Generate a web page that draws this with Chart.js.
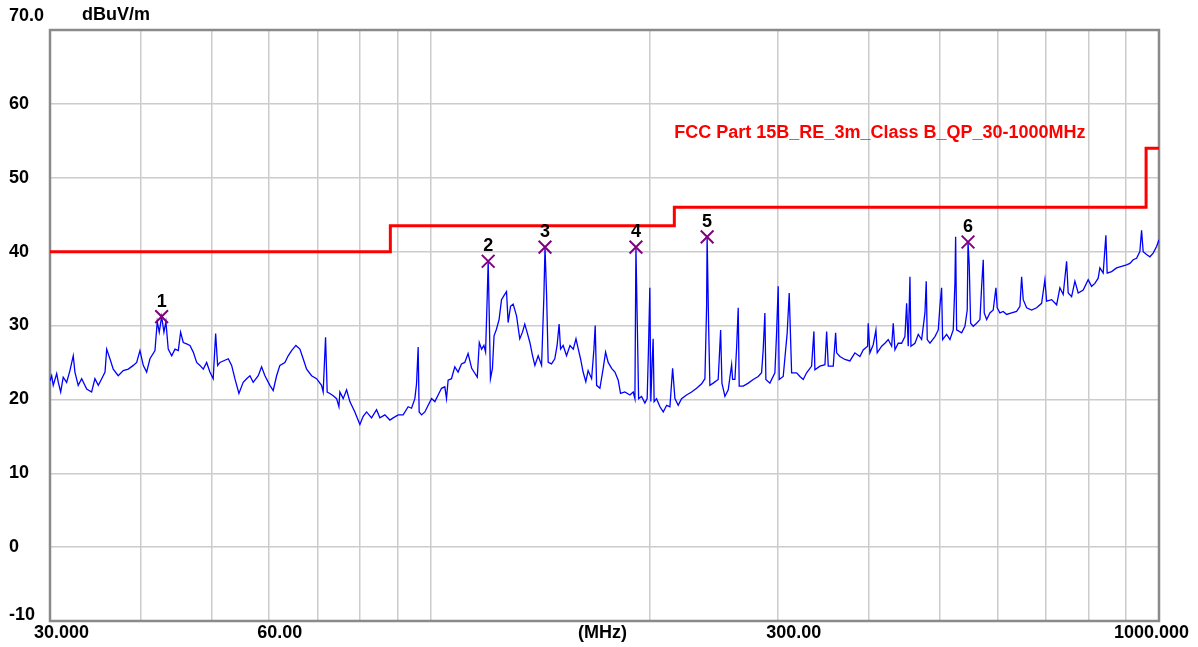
<!DOCTYPE html>
<html>
<head>
<meta charset="utf-8">
<title>Radiated emission scan</title>
<script src="https://cdn.jsdelivr.net/npm/chart.js@4.4.1/dist/chart.umd.min.js"></script>
<style>
    html, body { margin: 0; padding: 0; background: #ffffff; }
    canvas { display: block; }
</style>
</head>
<body>
<canvas id="scanChart" width="1198" height="647"></canvas>
<script>
const traceFreq = [
    30.0, 30.16, 30.31, 30.64, 30.80, 31.03, 31.28, 31.62, 31.95, 32.29, 32.46, 32.80, 33.16, 33.69, 34.22, 34.58, 34.95, 35.33, 35.70, 35.89,
    36.26, 36.64, 37.22, 37.82, 38.43, 39.04, 39.46, 39.87, 40.29, 40.72, 41.15, 41.81, 42.11, 42.38, 42.70, 43.01, 43.28, 43.60, 44.08, 44.54,
    45.01, 45.34, 45.72, 46.21, 46.70, 47.19, 47.70, 48.20, 48.71, 49.23, 49.74, 50.26, 50.65, 50.97, 51.34, 52.16, 52.71, 53.28, 53.83, 54.52,
    55.26, 55.86, 56.45, 57.04, 57.95, 58.57, 59.19, 60.13, 60.76, 61.42, 62.06, 63.05, 63.71, 64.40, 65.28, 66.11, 66.80, 67.53, 68.60, 69.69,
    70.80, 71.16, 71.70, 72.07, 72.69, 73.45, 74.25, 74.79,
    75.02, 75.81, 76.63, 77.43, 78.66, 79.92, 80.76, 81.63, 82.92, 84.25, 85.13, 86.49, 87.87, 88.79, 90.21, 91.64, 93.10, 94.10, 95.09, 95.60,
    96.09, 96.39, 97.13, 98.15, 99.18, 100.25, 101.30, 102.36, 103.45, 104.54, 105.10, 105.64, 106.77, 107.89, 109.02, 110.19, 111.35, 112.52, 113.81, 115.00,
    115.84, 116.58, 117.43, 118.29, 118.92, 119.53, 119.90, 120.29, 120.77, 121.53, 122.15, 123.08, 124.10, 125.07, 125.98, 127.06, 127.71, 128.69, 129.75, 131.15,
    132.50, 133.64, 134.61, 135.59, 136.80, 137.97, 138.98, 140.44, 141.96, 143.00, 143.50, 144.22, 144.96, 146.49, 148.02, 149.10, 150.05, 150.73, 151.98, 153.62,
    155.30, 156.93, 158.27, 159.43, 160.56, 161.88, 163.27, 164.46, 166.29, 167.51, 168.19, 168.94, 170.70, 172.49, 173.80, 175.24, 177.15, 179.01, 180.89, 182.20,
    184.70, 187.70, 189.67, 190.69, 191.30, 192.08, 192.94, 194.74, 196.79, 198.22, 199.10, 199.90, 200.53, 201.36, 202.00, 202.64, 204.18, 206.40, 208.57, 210.82,
    213.00, 214.83, 216.40, 218.67, 220.98, 224.51, 228.12, 231.76, 235.46, 237.93, 239.21, 239.60, 240.73, 241.70,
    244.24, 248.13, 248.92, 250.05, 251.08, 253.48, 256.14, 258.89, 259.71, 261.60, 263.01, 264.35, 265.19, 268.59, 272.87, 277.18, 281.60, 284.63, 286.07, 287.61,
    288.52, 292.20, 296.86, 298.46, 299.97, 300.92, 304.76, 308.64, 310.60, 312.98, 317.96, 321.30, 324.67, 328.18, 333.39, 335.82, 336.89, 342.30, 347.76, 349.63,
    351.41, 357.01, 359.72, 360.86, 364.60, 370.41, 376.30, 382.30, 388.40, 392.47, 397.97, 398.73, 400.90, 405.11, 408.58, 410.26, 416.03, 420.40, 424.81, 429.40,
    431.58, 433.91, 438.46, 443.18, 447.83, 450.24, 452.53, 455.00, 456.44, 462.25, 467.10, 472.13, 477.09, 479.05, 480.57, 484.70, 492.43, 497.59, 500.20, 502.90,
    504.49, 510.91, 516.30, 521.72, 524.53, 525.69, 527.35, 535.77, 541.39, 545.34, 546.70, 548.81, 551.22, 555.77, 561.78, 567.70, 570.76, 573.66, 575.47, 579.85,
    585.90, 592.05, 597.12, 599.58, 604.70, 611.04, 617.65, 627.46, 637.46, 644.20, 647.67, 650.96, 657.99, 668.48, 679.14, 689.90, 697.14, 700.89, 712.12, 723.46,
    731.00, 738.67, 746.65, 750.44, 758.57, 766.53, 774.57, 786.87, 799.41, 808.03, 816.51, 825.08, 829.50, 838.20, 845.39, 848.87, 860.81, 874.53, 888.46, 902.62,
    912.10, 921.67, 931.63, 941.30, 946.37, 951.17, 961.45, 971.60, 981.79, 992.40, 1000.0
];
const traceLevel = [
    22.5, 23.2, 21.9, 23.5, 22.3, 21.0, 23.0, 22.3, 23.9, 25.9, 23.7, 21.9, 22.8, 21.4, 21.0, 22.8, 21.9, 22.8, 23.7, 26.8,
    25.5, 24.1, 23.2, 23.9, 24.1, 24.6, 25.0, 26.6, 24.6, 23.7, 25.5, 26.6, 30.5, 29.1, 31.2, 29.1, 30.5, 26.8, 25.9, 26.8,
    26.6, 29.1, 27.7, 27.5, 27.3, 26.4, 25.0, 24.6, 24.1, 25.0, 23.7, 22.8, 28.9, 24.6, 25.0, 25.3, 25.5, 24.6, 22.8, 20.8,
    22.3, 22.8, 23.2, 22.3, 23.2, 24.4, 23.2, 21.9, 21.2, 23.2, 24.6, 25.0, 25.9, 26.6, 27.3, 26.8, 25.5, 24.1, 23.2, 22.8,
    21.9, 21.0, 28.4, 21.0, 20.8, 20.5, 20.1, 19.0,
    21.0, 20.1, 21.3, 19.7, 18.3, 16.6, 17.7, 18.3, 17.5, 18.6, 17.5, 17.9, 17.2, 17.5, 17.9, 17.9, 19.0, 18.8, 20.1, 22.1,
    27.1, 18.3, 17.9, 18.3, 19.2, 20.1, 19.7, 20.6, 21.5, 21.7, 20.1, 22.6, 22.8, 24.4, 23.7, 24.8, 25.0, 26.2, 24.2, 23.5,
    23.0, 27.7, 26.8, 27.3, 26.4, 33.8, 38.7, 31.7, 22.8, 24.2, 28.6, 29.5, 30.8, 33.5, 34.0, 34.6, 30.4, 32.6, 32.9, 31.3,
    28.2, 29.1, 30.2, 29.1, 27.7, 25.9, 24.6, 25.9, 24.6, 34.0, 40.6, 34.2, 25.0, 24.8, 25.5, 27.3, 30.2, 26.8, 27.3, 25.9,
    27.3, 26.8, 28.2, 26.8, 25.5, 23.7, 22.4, 23.9, 22.8, 26.8, 30.0, 21.9, 21.5, 24.2, 26.4, 25.0, 24.2, 23.7, 22.6, 20.8,
    21.0, 20.6, 21.0, 20.1, 40.6, 30.8, 20.1, 20.4, 19.5, 20.1, 27.3, 35.1, 19.7, 25.0, 28.2, 19.7, 20.1, 19.0, 18.3, 19.2,
    19.0, 24.2, 20.1, 19.2, 20.1, 20.6, 21.0, 21.5, 22.1, 22.8, 32.6, 42.0, 30.0, 21.9,
    22.2, 22.7, 25.4, 29.4, 22.2, 20.4, 21.3, 24.7, 22.7, 22.7, 27.0, 32.4, 21.8, 21.8, 22.2, 22.7, 23.1, 23.6, 26.7, 31.7,
    22.7, 22.2, 23.6, 29.0, 35.3, 22.7, 23.1, 29.0, 34.4, 23.6, 23.6, 23.1, 22.7, 23.6, 24.5, 29.2, 24.0, 24.5, 24.7, 29.2,
    24.5, 24.5, 29.0, 26.3, 25.8, 25.4, 25.2, 26.3, 25.8, 26.7, 27.2, 30.3, 26.3, 27.4, 29.4, 26.3, 27.2, 27.6, 28.1, 27.2,
    30.3, 26.7, 27.6, 27.6, 28.5, 33.0, 27.2, 36.6, 27.2, 27.6, 28.8, 28.1, 31.7, 36.0, 28.1, 27.6, 28.5, 29.4, 32.6, 35.1,
    28.1, 28.8, 28.1, 29.4, 35.7, 42.0, 29.4, 29.0, 29.9, 32.1, 41.3, 38.2, 30.3, 29.9, 30.3, 30.8, 35.3, 38.9, 31.7, 30.8,
    31.7, 32.1, 35.1, 32.4, 31.7, 31.9, 31.5, 31.7, 31.9, 32.6, 36.6, 33.5, 32.4, 32.1, 32.4, 33.0, 36.2, 33.3, 33.5, 32.8,
    35.1, 34.2, 38.7, 34.4, 33.9, 36.0, 34.4, 34.8, 36.2, 35.3, 35.7, 36.4, 37.8, 37.1, 42.2, 37.1, 37.3, 37.8, 38.0, 38.2,
    38.4, 38.9, 39.1, 40.0, 42.9, 40.0, 39.6, 39.3, 39.8, 40.7, 41.6
];

// FCC Part 15B class B QP limit
const limitFreq = [30, 88, 88, 216, 216, 960, 960, 1000];
const limitLevel = [40, 40, 43.5, 43.5, 46, 46, 54, 54];
const limitName = 'FCC Part 15B_RE_3m_Class B_QP_30-1000MHz';

// Peak markers
const markerFreq = [42.7, 119.9, 143.5, 191.3, 239.6, 546.7];
const markerLevel = [31.2, 38.7, 40.6, 40.6, 42.0, 41.3];
const markerLabels = ['1', '2', '3', '4', '5', '6'];

// Axis ticks
const xGridFreqs = [30, 40, 50, 60, 70, 80, 90, 100, 200, 300, 400, 500, 600, 700, 800, 900, 1000];
const xTickFreqs = [30, 60, 300, 1000];
const xTickLabels = ['30.000', '60.00', '300.00', '1000.000'];
const yTickValues = [70, 60, 50, 40, 30, 20, 10, 0, -10];
const yTickLabels = ['70.0', '60', '50', '40', '30', '20', '10', '0', '-10'];
const yUnit = 'dBuV/m';
const xUnit = '(MHz)';

const FONT = 'bold 18px "Liberation Sans", Arial, sans-serif';

function toPoints(xs, ys) {
    return xs.map((x, i) => ({ x: x, y: ys[i] }));
}

// Frame around the plot area
const framePlugin = {
    id: 'frame',
    beforeDatasetsDraw(chart) {
        const a = chart.chartArea;
        const ctx = chart.ctx;
        ctx.save();
        ctx.strokeStyle = '#8a8a8a';
        ctx.lineWidth = 2.5;
        ctx.strokeRect(a.left, a.top, a.right - a.left, a.bottom - a.top);
        ctx.restore();
    }
};

// All the texts: tick labels, units, limit name, marker numbers
const textPlugin = {
    id: 'texts',
    afterDraw(chart) {
        const ctx = chart.ctx;
        const xs = chart.scales.x;
        const ys = chart.scales.y;
        const a = chart.chartArea;
        ctx.save();
        ctx.font = FONT;
        ctx.fillStyle = '#000000';
        ctx.textBaseline = 'middle';

        // y tick labels
        ctx.textAlign = 'left';
        yTickValues.forEach((v, i) => {
            let y = ys.getPixelForValue(v);
            if (v === 70) y -= 14;
            if (v === -10) y -= 6;
            ctx.fillText(yTickLabels[i], 9, y);
        });
        ctx.fillText(yUnit, a.left + 32, a.top - 15);

        // x tick labels
        const ty = a.bottom + 12;
        xTickFreqs.forEach((f, i) => {
            const px = xs.getPixelForValue(f);
            if (f === 1000) {
                ctx.textAlign = 'right';
                ctx.fillText(xTickLabels[i], px + 30, ty);
            } else {
                ctx.textAlign = 'left';
                ctx.fillText(xTickLabels[i], px - (f === 30 ? 16 : 12), ty);
            }
        });
        ctx.textAlign = 'center';
        ctx.fillText(xUnit, (a.left + a.right) / 2 - 2, ty);

        // limit name
        ctx.fillStyle = '#ff0000';
        ctx.textAlign = 'left';
        ctx.fillText(limitName, xs.getPixelForValue(216), ys.getPixelForValue(56));

        // marker numbers
        ctx.fillStyle = '#000000';
        ctx.textAlign = 'center';
        markerFreq.forEach((f, i) => {
            ctx.fillText(markerLabels[i], xs.getPixelForValue(f), ys.getPixelForValue(markerLevel[i]) - 15);
        });
        ctx.restore();
    }
};

const scanChart = new Chart(document.getElementById('scanChart').getContext('2d'), {
    type: 'line',
    data: {
        datasets: [
            {
                label: 'Markers',
                data: toPoints(markerFreq, markerLevel),
                showLine: false,
                pointStyle: 'crossRot',
                pointRadius: 9,
                pointBorderWidth: 2,
                pointBorderColor: '#800080',
                pointBackgroundColor: '#800080',
                order: 0
            },
            {
                label: 'Trace',
                data: toPoints(traceFreq, traceLevel),
                borderColor: '#0000ff',
                borderWidth: 1.3,
                pointRadius: 0,
                tension: 0,
                fill: false,
                order: 1
            },
            {
                label: 'Limit',
                data: toPoints(limitFreq, limitLevel),
                borderColor: '#ff0000',
                borderWidth: 3,
                pointRadius: 0,
                tension: 0,
                fill: false,
                order: 2
            }
        ]
    },
    options: {
        responsive: false,
        animation: false,
        events: [],
        layout: { padding: { left: 50, top: 30, right: 39, bottom: 26 } },
        plugins: {
            legend: { display: false },
            tooltip: { enabled: false }
        },
        scales: {
            x: {
                type: 'logarithmic',
                min: 30,
                max: 1000,
                afterBuildTicks: (axis) => {
                    axis.ticks = xGridFreqs.map(v => ({ value: v }));
                },
                ticks: { display: false },
                grid: { color: '#cccccc', lineWidth: 1.5, drawTicks: false },
                border: { display: false }
            },
            y: {
                type: 'linear',
                min: -10,
                max: 70,
                ticks: { display: false, stepSize: 10 },
                grid: { color: '#cccccc', lineWidth: 1.5, drawTicks: false },
                border: { display: false }
            }
        }
    },
    plugins: [framePlugin, textPlugin]
});
</script>
</body>
</html>
